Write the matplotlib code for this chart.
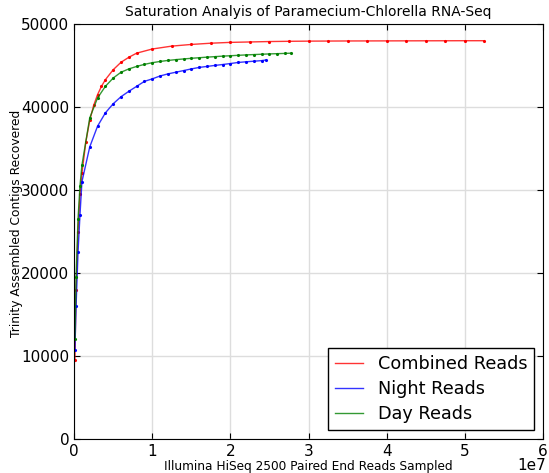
import numpy as np
import matplotlib
matplotlib.use("Agg")
import matplotlib.pyplot as plt
from matplotlib.ticker import FuncFormatter

# reads sampled (millions) and contigs recovered
combined_x = [0.1, 0.25, 0.5, 0.75, 1.0, 1.5, 2.0, 2.5, 3.0, 3.5, 4.0, 5.0, 6.0, 7.0, 8.0,
              10.0, 12.5, 15.0, 17.5, 20.0, 22.5, 25.0, 27.5, 30.0, 32.5, 35.0, 37.5,
              40.0, 42.5, 45.0, 47.5, 50.0, 52.5]
combined_y = [9500, 18000, 25000, 29500, 32000, 35800, 38400, 40200, 41500, 42500, 43300,
              44500, 45400, 46000, 46500, 47000, 47350, 47550, 47700, 47800, 47850, 47900,
              47930, 47950, 47960, 47970, 47975, 47980, 47985, 47990, 47995, 48000, 48000]

night_x = [0.1, 0.25, 0.5, 0.75, 1.0, 2.0, 3.0, 4.0, 5.0, 6.0, 7.0, 8.0, 9.0, 10.0, 11.0,
           12.0, 13.0, 14.0, 15.0, 16.0, 17.0, 18.0, 19.0, 20.0, 21.0, 22.0, 23.0, 24.0, 24.5]
night_y = [10700, 16000, 22500, 27000, 31000, 35200, 37700, 39300, 40400, 41250, 41900,
           42500, 43100, 43400, 43750, 44000, 44200, 44400, 44600, 44780, 44900, 45020,
           45130, 45250, 45380, 45460, 45530, 45600, 45670]

day_x = [0.1, 0.25, 0.5, 0.75, 1.0, 2.0, 3.0, 4.0, 5.0, 6.0, 7.0, 8.0, 9.0, 10.0, 11.0,
         12.0, 13.0, 14.0, 15.0, 16.0, 17.0, 18.0, 19.0, 20.0, 21.0, 22.0, 23.0, 24.0,
         25.0, 26.0, 27.0, 27.8]
day_y = [12000, 19500, 26500, 30500, 33000, 38700, 41100, 42500, 43500, 44200, 44600,
         44900, 45150, 45350, 45500, 45620, 45720, 45800, 45880, 45950, 46020, 46080,
         46140, 46190, 46240, 46290, 46330, 46370, 46410, 46440, 46470, 46500]

series = [(combined_x, combined_y, 'red', 'Combined Reads'),
          (night_x, night_y, 'blue', 'Night Reads'),
          (day_x, day_y, 'green', 'Day Reads')]

fig = plt.figure(figsize=(5.49, 4.73), dpi=100)
ax = fig.add_axes([0.135, 0.072, 0.854, 0.877])

for xs, ys, c, lab in series:
    xs = np.array(xs) * 1e6
    ax.plot(xs, ys, color=c, linewidth=1, alpha=0.8, label=lab)
    ax.plot(xs, ys, color=c, marker='.', markersize=2.5, linestyle='none')

ax.set_xlim(0, 6e7)
ax.set_ylim(0, 50000)
ax.set_xticks(np.arange(0, 7e7, 1e7))
ax.xaxis.set_major_formatter(FuncFormatter(lambda v, p: '%g' % (v / 1e7)))
ax.text(1.006, -0.075, '1e7', transform=ax.transAxes, ha='right', va='baseline', fontsize=11)

ax.grid(True, color='#dddddd', linestyle='-', linewidth=1)
ax.set_axisbelow(True)
ax.tick_params(direction='in', top=True, right=True, labelsize=11, length=4)

ax.set_title('Saturation Analyis of Paramecium-Chlorella RNA-Seq', fontsize=10)
ax.set_xlabel('Illumina HiSeq 2500 Paired End Reads Sampled', fontsize=8.7)
ax.xaxis.set_label_coords(0.5, -0.05)
ax.set_ylabel('Trinity Assembled Contigs Recovered', fontsize=8.8)
ax.yaxis.set_label_coords(-0.11, 0.52)

leg = ax.legend(loc='lower right', fontsize=12.7, fancybox=False, framealpha=1,
                handlelength=1.6, labelspacing=0.4)
leg.get_frame().set_edgecolor('black')

fig.savefig('out.png', dpi=100)
